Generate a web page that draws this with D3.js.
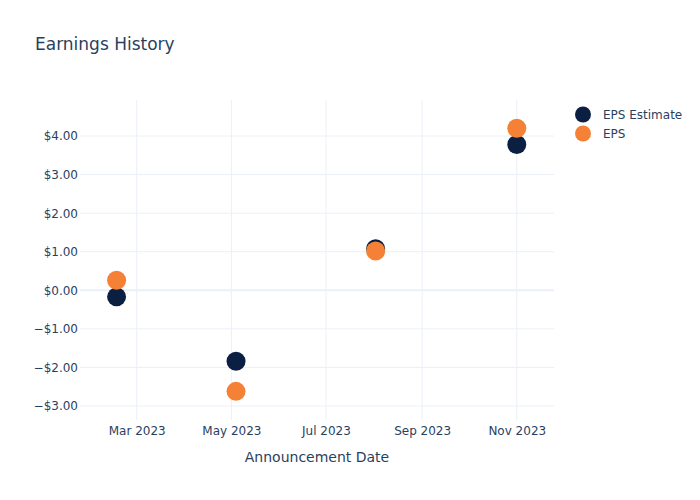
<!DOCTYPE html>
<html>
<head>
<meta charset="utf-8">
<script src="https://cdn.jsdelivr.net/npm/d3@7"></script>
<style>
  body { margin: 0; background: #fff; }
  svg { display: block; }
  text { font-family: "DejaVu Sans", Verdana, sans-serif; fill: #2a3f5f; }
</style>
</head>
<body>
<svg id="chart" width="700" height="500"></svg>
<script>
// ---- data ----
const dates = ["2023-02-16", "2023-05-04", "2023-08-02", "2023-11-01"];
const epsEstimate = [-0.17, -1.84, 1.08, 3.78];
const epsActual = [0.26, -2.62, 1.02, 4.20];
const seriesNames = ["EPS Estimate", "EPS"];
const seriesColors = ["#0b1f42", "#f58137"];
const yTicks = [-3, -2, -1, 0, 1, 2, 3, 4];
const xTickDates = ["2023-03-01", "2023-05-01", "2023-07-01", "2023-09-01", "2023-11-01"];

const parse = d3.utcParse("%Y-%m-%d");
const svg = d3.select("#chart");
const W = 700, H = 500;
const L = 80, R = 554, T = 100, B = 420;

const x = d3.scaleUtc()
  .domain([new Date(Date.UTC(2023, 0, 23, 10)), new Date(Date.UTC(2023, 10, 25))])
  .range([L, R]);
const y = d3.scaleLinear().domain([-3.363, 4.934]).range([B, T]);

svg.append("rect").attr("width", W).attr("height", H).attr("fill", "#fff");

// grid
const grid = svg.append("g");
grid.selectAll(".vg").data(xTickDates.map(parse)).enter().append("line")
  .attr("x1", d => x(d)).attr("x2", d => x(d))
  .attr("y1", T).attr("y2", B)
  .attr("stroke", "#EBF0F8").attr("stroke-width", 1);
grid.selectAll(".hg").data(yTicks).enter().append("line")
  .attr("x1", L).attr("x2", R)
  .attr("y1", d => y(d)).attr("y2", d => y(d))
  .attr("stroke", "#EBF0F8").attr("stroke-width", d => d === 0 ? 2 : 1);

// axes
const fmtY = d3.format("$.2f");
const yAxis = d3.axisLeft(y).tickValues(yTicks).tickFormat(fmtY).tickSize(0).tickPadding(2);
const gy = svg.append("g").attr("transform", `translate(${L},0)`).call(yAxis);
gy.select(".domain").remove();
gy.selectAll("text").attr("font-size", 12).attr("fill", "#2a3f5f")
  .style("font-family", '"DejaVu Sans", Verdana, sans-serif');

const xAxis = d3.axisBottom(x).tickValues(xTickDates.map(parse))
  .tickFormat(d3.utcFormat("%b %Y")).tickSize(0).tickPadding(6);
const gx = svg.append("g").attr("transform", `translate(0,${B})`).call(xAxis);
gx.select(".domain").remove();
gx.selectAll("text").attr("font-size", 12).attr("fill", "#2a3f5f")
  .style("font-family", '"DejaVu Sans", Verdana, sans-serif');

// axis title
svg.append("text").attr("x", (L + R) / 2).attr("y", 462)
  .attr("text-anchor", "middle").attr("font-size", 14).text("Announcement Date");

// title
svg.append("text").attr("x", 35).attr("y", 50)
  .attr("font-size", 17).text("Earnings History");

// points
const series = [epsEstimate, epsActual];
series.forEach((vals, i) => {
  svg.append("g").selectAll("circle").data(vals).enter().append("circle")
    .attr("cx", (d, j) => x(parse(dates[j])))
    .attr("cy", d => y(d))
    .attr("r", 9.5)
    .attr("fill", seriesColors[i]);
});

// legend
const lg = svg.append("g");
seriesNames.forEach((name, i) => {
  const yy = 114.5 + i * 19;
  lg.append("circle").attr("cx", 583).attr("cy", yy).attr("r", 8).attr("fill", seriesColors[i]);
  lg.append("text").attr("x", 603).attr("y", yy).attr("dy", "0.35em")
    .attr("font-size", 12).text(name);
});
</script>
</body>
</html>
